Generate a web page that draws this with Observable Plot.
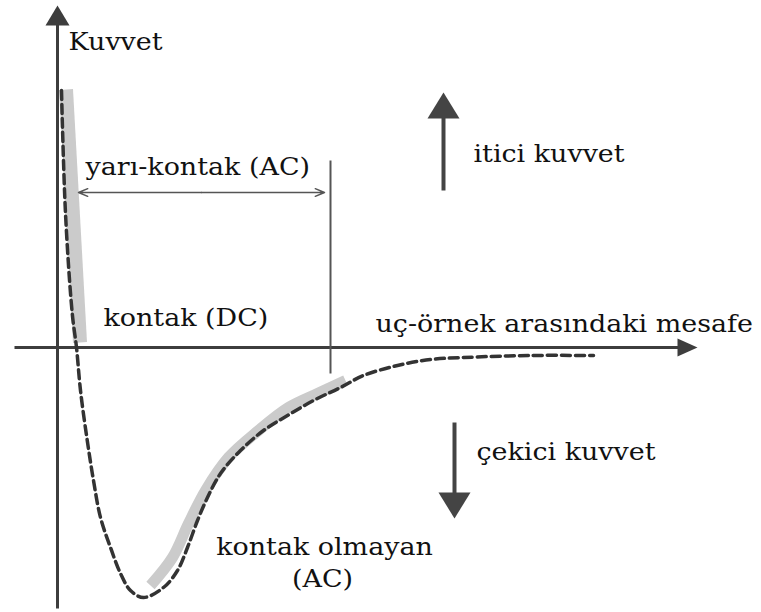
<!DOCTYPE html>
<html>
<head>
<meta charset="utf-8">
<script src="https://cdn.jsdelivr.net/npm/d3@7"></script>
<script src="https://cdn.jsdelivr.net/npm/@observablehq/plot@0.6"></script>
<style>
  body { margin: 0; background: #fff; }
  #chart svg text { font-family: "DejaVu Serif", "Liberation Serif", serif !important; }
</style>
</head>
<body>
<div id="chart"></div>
<script>
// Tip–sample interaction force versus distance (arbitrary units)
const curveDistance = [0.16, 0.32, 0.59, 0.76, 0.92, 1.19, 1.44, 1.72, 2.12, 2.52, 2.92, 3.44, 4.24, 4.8, 5.2, 5.6, 6.0, 6.52, 7.32, 8.24, 9.2, 10.24, 11.32, 12.24, 13.6, 14.92, 16.24, 18.92, 21.44];
const curveForce    = [10.28, 5.36, 1.36, 0, -1.72, -3.72, -5.32, -6.8, -8.0, -9.04, -9.72, -10.0, -9.6, -8.92, -8.0, -6.92, -6.0, -5.04, -4.12, -3.32, -2.72, -2.12, -1.6, -1.12, -0.72, -0.48, -0.4, -0.32, -0.32];

// Operating regions highlighted along the curve
const contactDistance    = [0.34, 0.9];
const contactForce       = [10.32, 0.2];
const nonContactDistance = [3.72, 4.6, 5.24, 5.92, 6.84, 8.04, 9.24, 10.4, 11.52];
const nonContactForce    = [-9.52, -8.4, -7.04, -5.72, -4.4, -3.32, -2.4, -1.84, -1.32];

// Semi-contact range: from the wall to the marker line
const semiContactStart = 0.84;
const semiContactEnd   = 10.68;
const semiContactLine  = 10.92;

// Text labels
const labelTexts = ["Kuvvet", "yarı-kontak (AC)", "kontak (DC)", "uç-örnek arasındaki mesafe", "itici kuvvet", "çekici kuvvet", "kontak olmayan", "(AC)"];

// Layout (data units) for labels, axes and direction arrows
const labelLayout = [
  {x: 0.44,  y: 12.21, anchor: "start"},
  {x: 1.12,  y: 7.21,  anchor: "start"},
  {x: 1.84,  y: 1.17,  anchor: "start"},
  {x: 12.72, y: 0.93,  anchor: "start"},
  {x: 16.64, y: 7.73,  anchor: "start"},
  {x: 16.76, y: -4.19, anchor: "start"},
  {x: 10.68, y: -7.99, anchor: "middle"},
  {x: 10.6,  y: -9.27, anchor: "middle"}
];
const labels = labelTexts.map((text, i) => ({text, ...labelLayout[i]}));

const arrows = [
  {name: "force axis",    from: [0, -10.44],    tip: [0, 13.68],     head: 0.8,  half: 0.48, width: 3, color: "#3d3d3d"},
  {name: "distance axis", from: [-1.72, 0],     tip: [25.6, 0],      head: 0.8,  half: 0.36, width: 3, color: "#3d3d3d"},
  {name: "repulsive",     from: [15.44, 6.28],  tip: [15.44, 10.2],  head: 1.04, half: 0.64, width: 4, color: "#444"},
  {name: "attractive",    from: [15.88, -3.0],  tip: [15.88, -6.84], head: 1.04, half: 0.64, width: 4, color: "#444"}
];

const curve = curveDistance.map((d, i) => ({d, f: curveForce[i]}));
const contactBand = contactDistance.map((d, i) => ({d, f: contactForce[i]}));
const nonContactBand = nonContactDistance.map((d, i) => ({d, f: nonContactForce[i]}));

// Shaft ends at the base of the head; the head is a filled triangle
const shafts = arrows.map(a => {
  const dx = a.tip[0] - a.from[0], dy = a.tip[1] - a.from[1];
  const len = Math.hypot(dx, dy), ux = dx / len, uy = dy / len;
  return {...a, x1: a.from[0], y1: a.from[1], x2: a.tip[0] - ux * a.head * 0.9, y2: a.tip[1] - uy * a.head * 0.9};
});
const heads = arrows.flatMap(a => {
  const dx = a.tip[0] - a.from[0], dy = a.tip[1] - a.from[1];
  const len = Math.hypot(dx, dy), ux = dx / len, uy = dy / len;
  const bx = a.tip[0] - ux * a.head, by = a.tip[1] - uy * a.head;
  return [
    {name: a.name, color: a.color, x: a.tip[0], y: a.tip[1]},
    {name: a.name, color: a.color, x: bx - uy * a.half, y: by + ux * a.half},
    {name: a.name, color: a.color, x: bx + uy * a.half, y: by - ux * a.half}
  ];
});

const semiMid = (semiContactStart + semiContactEnd) / 2;
const semiArrows = [
  {x1: semiMid, x2: semiContactStart, y: 6.2},
  {x1: semiMid, x2: semiContactEnd,   y: 6.2}
];

const font = "DejaVu Serif, Liberation Serif, serif";
const textStyle = {x: "x", y: "y", text: "text", fontFamily: font, fontSize: 25, fill: "#111", lineAnchor: "middle"};

const svg = Plot.plot({
  width: 761,
  height: 612,
  margin: 0,
  style: {fontFamily: font},
  x: {domain: [-2.28, 28.16], axis: null},
  y: {domain: [-10.6, 13.88], axis: null},
  marks: [
    // highlighted regions
    Plot.line(contactBand, {x: "d", y: "f", stroke: "#cbcbcb", strokeWidth: 14, strokeLinecap: "butt"}),
    Plot.line(nonContactBand, {x: "d", y: "f", stroke: "#cbcbcb", strokeWidth: 11, strokeLinecap: "butt", curve: "catmull-rom"}),
    // axes and direction arrows
    Plot.link(shafts, {x1: "x1", y1: "y1", x2: "x2", y2: "y2", stroke: d => d.color, strokeWidth: d => d.width}),
    Plot.line(heads, {x: "x", y: "y", z: "name", fill: d => d.color, stroke: "none", curve: "linear-closed"}),
    // force curve
    Plot.line(curve, {x: "d", y: "f", stroke: "#333", strokeWidth: 3.5, strokeDasharray: "9,5", curve: "catmull-rom"}),
    // semi-contact range
    Plot.link([semiContactLine], {x1: d => d, x2: d => d, y1: 7.48, y2: -1.04, stroke: "#555", strokeWidth: 2}),
    Plot.arrow(semiArrows, {x1: "x1", y1: "y", x2: "x2", y2: "y", stroke: "#555", strokeWidth: 1.5, headLength: 10, headAngle: 45}),
    // labels
    Plot.text(labels.filter(d => d.anchor === "start"), {...textStyle, textAnchor: "start"}),
    Plot.text(labels.filter(d => d.anchor === "middle"), {...textStyle, textAnchor: "middle"})
  ]
});
document.getElementById("chart").append(svg);

// The lettering is set wide: the axis caption spans about 15 distance units,
// and every label gets the same horizontal stretch
const texts = Array.from(svg.querySelectorAll("text"));
const caption = texts.find(t => t.textContent === labelTexts[3]);
const unitPx = 761 / (28.16 + 2.28);
const stretch = (15.1 * unitPx) / caption.getComputedTextLength();
texts.forEach(t => {
  const w = t.getComputedTextLength();
  t.setAttribute("textLength", (w * stretch).toFixed(1));
  t.setAttribute("lengthAdjust", "spacingAndGlyphs");
});
</script>
</body>
</html>
